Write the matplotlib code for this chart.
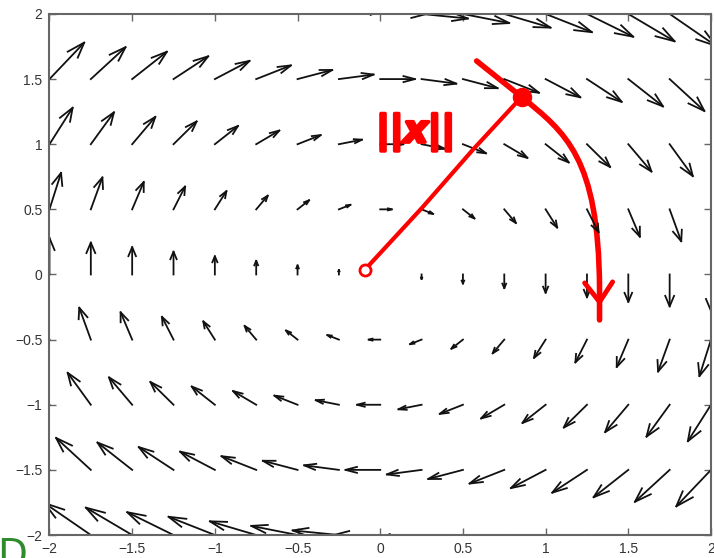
import numpy as np
import matplotlib
matplotlib.use("Agg")
import matplotlib.pyplot as plt
import matplotlib.patheffects as pe
from matplotlib.path import Path
from matplotlib.patches import PathPatch

# quiver grid (tails of the arrows)
x_grid = [-2.0, -1.75, -1.5, -1.25, -1.0, -0.75, -0.5, -0.25, 0.0,
          0.25, 0.5, 0.75, 1.0, 1.25, 1.5, 1.75, 2.0]
y_grid = [-2.0, -1.5, -1.0, -0.5, 0.0, 0.5, 1.0, 1.5, 2.0]

tick_values = [-2, -1.5, -1, -0.5, 0, 0.5, 1, 1.5, 2]
tick_labels = ["\u22122", "\u22121.5", "\u22121", "\u22120.5", "0", "0.5", "1", "1.5", "2"]

# hand-drawn red annotation (data coordinates)
radius_x = [-0.094, 0.257, 0.559, 0.855]
radius_y = [0.035, 0.518, 0.956, 1.363]
# trajectory: straight lead-in, cubic bezier bend, straight tail
arc_x = [0.583, 0.855, 1.12, 1.32, 1.326, 1.326]
arc_y = [1.639, 1.363, 1.09, 0.90, -0.10, -0.349]
arc_codes = [Path.MOVETO, Path.LINETO, Path.CURVE4, Path.CURVE4, Path.CURVE4, Path.LINETO]
head_x = [1.236, 1.326, 1.405]
head_y = [-0.065, -0.211, -0.057]
norm_label = "||x||"
norm_pos = (0.215, 1.085)


def main():
    fig = plt.figure(figsize=(7.14, 5.58), dpi=100)
    ax = fig.add_axes([0.0693, 0.0412, 0.9265, 0.9338])

    # rotation field dx/dt = y, dy/dt = -x
    X, Y = np.meshgrid(x_grid, y_grid)
    U = Y
    V = -X

    # MATLAB-style quiver: line shafts with open heads
    scale = 0.14
    alpha, beta = 0.33, 0.33
    x, y = X.ravel(), Y.ravel()
    u, v = U.ravel() * scale, V.ravel() * scale
    nan = np.full_like(x, np.nan)

    shaft_x = np.column_stack([x, x + u, nan]).ravel()
    shaft_y = np.column_stack([y, y + v, nan]).ravel()
    hx = np.column_stack([x + u - alpha * (u + beta * v), x + u,
                          x + u - alpha * (u - beta * v), nan]).ravel()
    hy = np.column_stack([y + v - alpha * (v - beta * u), y + v,
                          y + v - alpha * (v + beta * u), nan]).ravel()
    ax.plot(shaft_x, shaft_y, color="#111111", lw=1.3)
    ax.plot(hx, hy, color="#111111", lw=1.3)

    # red annotation
    red = "#ff0000"
    ax.plot(radius_x, radius_y, color=red, lw=3, solid_capstyle="round")
    arc = Path(np.column_stack([arc_x, arc_y]), arc_codes)
    ax.add_patch(PathPatch(arc, facecolor="none", edgecolor=red, lw=4,
                           capstyle="round", joinstyle="round"))
    ax.plot(head_x, head_y, color=red, lw=3.5, solid_capstyle="round",
            solid_joinstyle="round")
    ax.plot(radius_x[0], radius_y[0], "o", mfc="white", mec=red, mew=2, ms=8)
    ax.plot(radius_x[-1], radius_y[-1], "o", color=red, ms=13)
    ax.text(norm_pos[0], norm_pos[1], norm_label, color=red, fontsize=27,
            fontweight="bold", ha="center", va="center", fontstyle="italic",
            family=["Liberation Sans Narrow", "DejaVu Sans"],
            path_effects=[pe.withStroke(linewidth=2.5, foreground=red)])

    ax.set_xlim(-2, 2)
    ax.set_ylim(-2, 2)
    ax.set_xticks(tick_values)
    ax.set_xticklabels(tick_labels)
    ax.set_yticks(tick_values)
    ax.set_yticklabels(tick_labels)
    ax.tick_params(direction="in", top=True, right=True, length=5, width=1,
                   color="#666666", labelsize=10, labelcolor="#333333", pad=5)
    for label in ax.get_xticklabels() + ax.get_yticklabels():
        label.set_family("Liberation Sans")
    for spine in ax.spines.values():
        spine.set_color("#666666")
        spine.set_linewidth(1.5)

    # cropped green letter from the slide at the bottom-left
    fig.text(-0.004, -0.03, "D", color="#2e8b2e", fontsize=28, ha="left",
             va="bottom")

    fig.savefig("out.png", dpi=100)
    plt.close(fig)


if __name__ == "__main__":
    main()
